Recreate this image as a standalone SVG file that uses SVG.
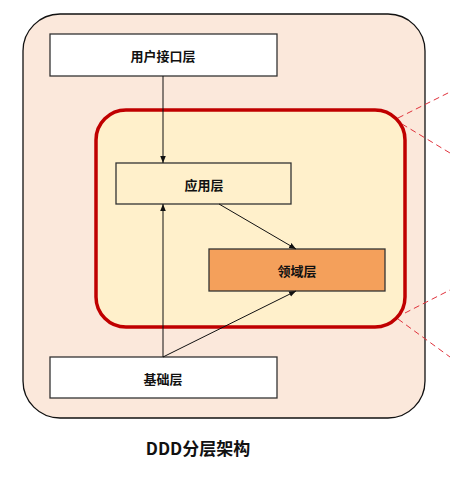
<svg xmlns="http://www.w3.org/2000/svg" width="450" height="480" viewBox="0 0 450 480">
<style>
text{font-family:"Noto Sans CJK SC","Liberation Sans",sans-serif;font-weight:bold;text-anchor:middle;dominant-baseline:central;fill:#111}
.lbl{font-size:13px}
.box{stroke:#333;stroke-width:1.3}
.edge{stroke:#111;stroke-width:1;fill:none;marker-end:url(#ah)}
.dash{stroke:#E0323C;stroke-width:1;stroke-dasharray:6 4;fill:none}
</style>
<defs>
<marker id="ah" viewBox="0 0 10 10" refX="10" refY="5" markerWidth="7" markerHeight="7" orient="auto" markerUnits="userSpaceOnUse">
<path d="M0,1 L10,5 L0,9 Z" fill="#111"/>
</marker>
</defs>
<rect width="450" height="480" fill="#fff"/>
<g id="outer">
<rect x="23" y="14" width="402" height="404" rx="37" ry="37" fill="#FBE8DB" stroke="#111" stroke-width="1.3"/>
</g>
<g id="dashes">
<line class="dash" x1="398" y1="118" x2="450" y2="92"/>
<line class="dash" x1="402" y1="124" x2="450" y2="153"/>
<line class="dash" x1="405" y1="313" x2="450" y2="290"/>
<line class="dash" x1="398" y1="319" x2="450" y2="357"/>
</g>
<g id="core">
<rect x="96" y="110" width="309" height="217" rx="30" ry="30" fill="#FFF0CB" stroke="#C00000" stroke-width="3.5"/>
</g>
<g id="n-ui">
<rect class="box" x="50" y="34" width="227" height="42" fill="#fff"/>
<text class="lbl" x="163" y="55">用户接口层</text>
</g>
<g id="n-app">
<rect class="box" x="116" y="163" width="175" height="41" fill="#FFF0CB"/>
<text class="lbl" x="204" y="184">应用层</text>
</g>
<g id="n-domain">
<rect class="box" x="209" y="249" width="176" height="42" fill="#F4A05B"/>
<text class="lbl" x="297" y="270">领域层</text>
</g>
<g id="n-infra">
<rect class="box" x="50" y="357" width="227" height="41" fill="#fff"/>
<text class="lbl" x="163" y="378">基础层</text>
</g>
<g id="connectors">
<line class="edge" x1="163" y1="76" x2="163" y2="163"/>
<line class="edge" x1="163" y1="357" x2="163" y2="204"/>
<line class="edge" x1="219" y1="204" x2="296" y2="249"/>
<line class="edge" x1="163" y1="357" x2="296" y2="291"/>
</g>
<g id="title">
<text x="198" y="447" font-size="17">DDD分层架构</text>
</g>
</svg>
